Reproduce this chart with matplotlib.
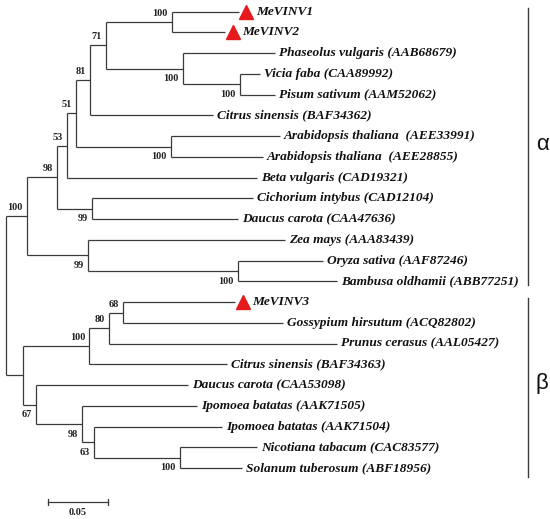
import matplotlib
matplotlib.use('Agg')
import matplotlib.pyplot as plt
from matplotlib.transforms import offset_copy

# ---------------- data ----------------
node_names = ['root', 'alpha', 'A', 'B', 'C', 'D', 'E', 'F', 'G', 'H', 'I', 'J',
              'K', 'L', 'beta', 'M', 'N', 'O', 'P', 'Q', 'R', 'S']
node_parents = [None, 'root', 'alpha', 'A', 'B', 'C', 'D', 'E', 'E', 'G', 'C', 'A',
                'alpha', 'K', 'root', 'beta', 'M', 'N', 'beta', 'P', 'Q', 'R']
node_lengths = [0.0, 0.0175, 0.025, 0.0083, 0.0075, 0.0117, 0.0133, 0.055, 0.0642,
                0.0475, 0.0792, 0.0292, 0.0508, 0.125, 0.0142, 0.055, 0.0167, 0.0117,
                0.0108, 0.0383, 0.01, 0.0717]
node_support = [None, 100, 98, 53, 51, 81, 71, 100, 100, 100, 100, 99,
                99, 100, None, 100, 80, 68, 67, 98, 63, 100]

leaf_labels = ['MeVINV1', 'MeVINV2', 'Phaseolus vulgaris (AAB68679)',
               'Vicia faba (CAA89992)', 'Pisum sativum (AAM52062)',
               'Citrus sinensis (BAF34362)', 'Arabidopsis thaliana  (AEE33991)',
               'Arabidopsis thaliana  (AEE28855)', 'Beta vulgaris (CAD19321)',
               'Cichorium intybus (CAD12104)', 'Daucus carota (CAA47636)',
               'Zea mays (AAA83439)', 'Oryza sativa (AAF87246)',
               'Bambusa oldhamii (ABB77251)', 'MeVINV3',
               'Gossypium hirsutum (ACQ82802)', 'Prunus cerasus (AAL05427)',
               'Citrus sinensis (BAF34363)', 'Daucus carota (CAA53098)',
               'Ipomoea batatas (AAK71505)', 'Ipomoea batatas (AAK71504)',
               'Nicotiana tabacum (CAC83577)', 'Solanum tuberosum (ABF18956)']
leaf_parents = ['F', 'F', 'G', 'H', 'H', 'D', 'I', 'I', 'B', 'J', 'J', 'K', 'L', 'L',
                'O', 'O', 'N', 'M', 'P', 'Q', 'R', 'S', 'S']
leaf_lengths = [0.0558, 0.0442, 0.0767, 0.0167, 0.0292, 0.1025, 0.0908, 0.0767,
                0.1583, 0.1342, 0.1217, 0.1642, 0.0708, 0.0825, 0.0933, 0.1333,
                0.19, 0.115, 0.1267, 0.0958, 0.1067, 0.0642, 0.0517]
highlighted = ['MeVINV1', 'MeVINV2', 'MeVINV3']

clade_names = ['\u03b1', '\u03b2']
clade_first = [0, 14]
clade_last = [13, 22]

scale_length = 0.05
scale_label = '0.05'

# ---------------- layout ----------------
LINE = '#3a3a3a'
fig = plt.figure(figsize=(5.5, 5.19), dpi=100)
ax = fig.add_axes([0, 0, 1, 1])
ax.axis('off')
ax.set_xlim(-0.005, 0.4533)
ax.set_ylim(24.45, -0.564)

# positions
parent_of = dict(zip(node_names, node_parents))
length_of = dict(zip(node_names, node_lengths))
support_of = dict(zip(node_names, node_support))
xpos = {}
def nx(n):
    if n in xpos:
        return xpos[n]
    p = parent_of[n]
    xpos[n] = 0.0 if p is None else nx(p) + length_of[n]
    return xpos[n]
for n in node_names:
    nx(n)

children = {n: [] for n in node_names}
for n, p in zip(node_names, node_parents):
    if p is not None:
        children[p].append(('node', n))
for i, p in enumerate(leaf_parents):
    children[p].append(('leaf', i))

leaf_x = [xpos[p] + l for p, l in zip(leaf_parents, leaf_lengths)]
ypos = {}
def ny(n):
    if n in ypos:
        return ypos[n]
    ys = []
    for kind, c in children[n]:
        ys.append(c if kind == 'leaf' else ny(c))
    ypos[n] = (min(ys) + max(ys)) / 2.0
    return ypos[n]
for n in node_names:
    ny(n)

def child_y(kind, c):
    return c if kind == 'leaf' else ypos[c]

lw = 0.9
# vertical connectors + horizontal branches of internal nodes
for n in node_names:
    ys = [child_y(k, c) for k, c in children[n]]
    ax.plot([xpos[n], xpos[n]], [min(ys), max(ys)], color=LINE, lw=lw,
            solid_capstyle='butt')
    p = parent_of[n]
    if p is not None:
        ax.plot([xpos[p], xpos[n]], [ypos[n], ypos[n]], color=LINE, lw=lw,
                solid_capstyle='butt')

# leaf branches
for i, (p, lx) in enumerate(zip(leaf_parents, leaf_x)):
    ax.plot([xpos[p], lx], [i, i], color=LINE, lw=lw, solid_capstyle='butt')

# leaf labels
leaf_font = dict(family='Liberation Serif', style='italic', weight='bold',
                 size=9.6, color='#111111')
for i, (lab, lx) in enumerate(zip(leaf_labels, leaf_x)):
    if lab in highlighted:
        tri = offset_copy(ax.transData, fig=fig, x=7.5, y=0, units='dots')
        ax.plot([lx], [i], marker='^', ms=10.5, color='#e41a1c', mec='#e41a1c',
                transform=tri, clip_on=False)
        tt = offset_copy(ax.transData, fig=fig, x=17, y=0, units='dots')
    else:
        tt = offset_copy(ax.transData, fig=fig, x=4, y=0, units='dots')
    ax.text(lx, i, lab, transform=tt, ha='left', va='center', **leaf_font)

# bootstrap labels
sup_font = dict(family='Liberation Serif', weight='bold', size=7.4, color='#222222')
for n in node_names:
    s = support_of[n]
    p = parent_of[n]
    if s is None or p is None:
        continue
    sib_ys = [child_y(k, c) for k, c in children[p]]
    upper = ypos[n] <= min(sib_ys) + 1e-9
    dy = 8.5 if upper else -10
    tr = offset_copy(ax.transData, fig=fig, x=-4, y=dy, units='dots')
    ax.text(xpos[n], ypos[n], str(s), transform=tr, ha='right', va='center',
            **sup_font)

# clade brackets
bx = 0.435
for name, f, l in zip(clade_names, clade_first, clade_last):
    y0 = f - 0.18
    y1 = l + (0.17 if f == 0 else 0.42)
    ax.plot([bx, bx], [y0, y1], color=LINE, lw=1.0)
    ax.text(bx + 0.0117, (f + l) / 2.0 - 0.1, name, ha='center', va='center',
            family='Liberation Sans', size=16, color='#111111')

# scale bar
sx0, sy = 0.035, 23.63
ax.plot([sx0, sx0 + scale_length], [sy, sy], color=LINE, lw=lw)
for xx in (sx0, sx0 + scale_length):
    ax.plot([xx, xx], [sy - 0.15, sy + 0.15], color=LINE, lw=lw)
ax.text(sx0 + scale_length / 2, sy + 0.5, scale_label, ha='center', va='center',
        **sup_font)

fig.savefig('out.png', dpi=100)
